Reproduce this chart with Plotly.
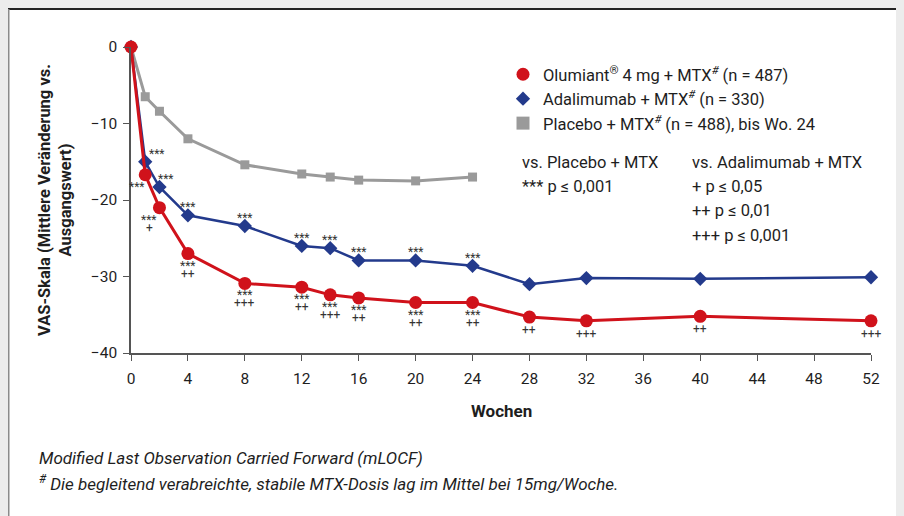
import plotly.graph_objects as go

# ---------------- data ----------------
weeks = [0, 1, 2, 4, 8, 12, 14, 16, 20, 24, 28, 32, 40, 52]
olumiant = [0, -16.7, -21.0, -27.0, -30.9, -31.4, -32.4, -32.8, -33.4, -33.4, -35.3, -35.8, -35.2, -35.8]
adalimumab = [0, -15.0, -18.3, -22.0, -23.4, -26.0, -26.3, -27.9, -27.9, -28.6, -31.0, -30.2, -30.3, -30.1]
weeks_placebo = [0, 1, 2, 4, 8, 12, 14, 16, 20, 24]
placebo = [0, -6.5, -8.4, -12.0, -15.4, -16.6, -17.0, -17.4, -17.5, -17.0]

# significance labels
olu_vs_placebo = ["", "***", "***", "***", "***", "***", "***", "***", "***", "***", "", "", "", ""]
olu_vs_ada = ["", "", "+", "++", "+++", "++", "+++", "++", "++", "++", "++", "+++", "++", "+++"]
ada_vs_placebo = ["", "***", "***", "***", "***", "***", "***", "***", "***", "***", "", "", "", ""]

x_ticks = [0, 4, 8, 12, 16, 20, 24, 28, 32, 36, 40, 44, 48, 52]
y_ticks = [0, -10, -20, -30, -40]
y_ticklabels = ["0", "\u221210", "\u221220", "\u221230", "\u221240"]

legend_names = [
    "Olumiant<sup>®</sup> 4 mg + MTX<sup><i>#</i></sup> (n = 487)",
    "Adalimumab + MTX<sup><i>#</i></sup> (n = 330)",
    "Placebo + MTX<sup><i>#</i></sup> (n = 488), bis Wo. 24",
]

# ---------------- style ----------------
W, H = 904, 516
L, R, T, B = 123, 41, 39, 171
PW, PH = W - L - R, H - T - B
RED, BLUE, GREY = "#d0121b", "#233a8c", "#9a9a9a"
TXT = "#1e1e1e"
FONT = "Roboto"


def px(xp):
    return (xp - L) / PW


def py(yp):
    return 1 - (yp - T) / PH


fig = go.Figure()

fig.add_trace(go.Scatter(x=weeks_placebo, y=placebo, mode="lines+markers",
                         line=dict(color=GREY, width=3),
                         marker=dict(symbol="square", size=9, color=GREY),
                         showlegend=False, cliponaxis=False))
fig.add_trace(go.Scatter(x=weeks, y=adalimumab, mode="lines+markers",
                         line=dict(color=BLUE, width=2.5),
                         marker=dict(symbol="diamond", size=11, color=BLUE),
                         showlegend=False, cliponaxis=False))
fig.add_trace(go.Scatter(x=weeks, y=olumiant, mode="lines+markers",
                         line=dict(color=RED, width=3),
                         marker=dict(symbol="circle", size=13, color=RED),
                         showlegend=False, cliponaxis=False))

# legend-only entries (markers only)
for name, col, sym, sz in [(legend_names[0], RED, "circle", 13),
                           (legend_names[1], BLUE, "diamond", 11),
                           (legend_names[2], GREY, "square", 13)]:
    fig.add_trace(go.Scatter(x=[None], y=[None], mode="markers", name=name,
                             marker=dict(symbol=sym, size=sz, color=col)))

annotations = []
small = dict(family=FONT, size=12, color="#333333")

# Olumiant labels (below points)
red_xshift = {1: -8, 2: -10}
for wk, yv, s, p in zip(weeks, olumiant, olu_vs_placebo, olu_vs_ada):
    xs = red_xshift.get(wk, 0)
    if s:
        annotations.append(dict(x=wk, y=yv, xref="x", yref="y", text=s, showarrow=False,
                                font=small, xshift=xs, yshift=-12, yanchor="middle"))
        if p:
            annotations.append(dict(x=wk, y=yv, xref="x", yref="y", text=p, showarrow=False,
                                    font=small, xshift=xs, yshift=-20, yanchor="middle"))
    elif p:
        annotations.append(dict(x=wk, y=yv, xref="x", yref="y", text=p, showarrow=False,
                                font=small, xshift=xs, yshift=-13, yanchor="middle"))

# Adalimumab labels (above points)
blue_xshift = {1: 12, 2: 7}
for wk, yv, s in zip(weeks, adalimumab, ada_vs_placebo):
    if s:
        annotations.append(dict(x=wk, y=yv, xref="x", yref="y", text=s, showarrow=False,
                                font=small, xshift=blue_xshift.get(wk, 0), yshift=8,
                                yanchor="middle"))

# significance key
key_font = dict(family=FONT, size=16.5, color=TXT)
left_col = ["vs. Placebo + MTX", "*** p \u2264 0,001"]
right_col = ["vs. Adalimumab + MTX", "+ p \u2264 0,05", "++ p \u2264 0,01", "+++ p \u2264 0,001"]
for i, t in enumerate(left_col):
    annotations.append(dict(x=px(512), y=py(154 + 24.4 * i), xref="paper", yref="paper",
                            text=t, showarrow=False, xanchor="left", yanchor="middle",
                            font=key_font))
for i, t in enumerate(right_col):
    annotations.append(dict(x=px(682), y=py(154 + 24.4 * i), xref="paper", yref="paper",
                            text=t, showarrow=False, xanchor="left", yanchor="middle",
                            font=key_font))

# y-axis title
annotations.append(dict(x=px(47), y=py(192), xref="paper", yref="paper",
                        text="<b>VAS-Skala (Mittlere Veränderung vs.<br>Ausgangswert)</b>",
                        showarrow=False, textangle=-90, xanchor="center", yanchor="middle",
                        font=dict(family=FONT, size=16.5, color=TXT)))
# x-axis title
annotations.append(dict(x=px(493), y=py(403), xref="paper", yref="paper",
                        text="<b>Wochen</b>", showarrow=False, xanchor="center",
                        yanchor="middle", font=dict(family=FONT, size=17, color=TXT)))

# footnotes
foot_font = dict(family=FONT, size=17, color=TXT)
annotations.append(dict(x=px(29), y=py(450), xref="paper", yref="paper",
                        text="<i>Modified Last Observation Carried Forward (mLOCF)</i>",
                        showarrow=False, xanchor="left", yanchor="middle", font=foot_font))
annotations.append(dict(x=px(29), y=py(475), xref="paper", yref="paper",
                        text="<i><sup>#</sup> Die begleitend verabreichte, stabile MTX-Dosis lag im Mittel bei 15mg/Woche.</i>",
                        showarrow=False, xanchor="left", yanchor="middle", font=foot_font))

# frame lines
shapes = [
    dict(type="line", xref="paper", yref="paper", x0=px(0), x1=px(W), y0=py(1), y1=py(1),
         line=dict(color="#222222", width=2)),
    dict(type="line", xref="paper", yref="paper", x0=px(0.75), x1=px(0.75), y0=py(1), y1=py(H),
         line=dict(color="#8a8a8a", width=1.5)),
]

fig.update_layout(
    width=W, height=H,
    margin=dict(l=L, r=R, t=T, b=B),
    paper_bgcolor="white", plot_bgcolor="white",
    font=dict(family=FONT, size=15, color=TXT),
    xaxis=dict(range=[0, 52], tickvals=x_ticks, ticks="outside", ticklen=6,
               tickcolor="#555555", showline=True, linecolor="#555555", linewidth=1.5,
               showgrid=False, zeroline=False, tickfont=dict(size=15.5, color=TXT),
               ticklabelstandoff=5),
    yaxis=dict(range=[-40, 0], tickvals=y_ticks, ticktext=y_ticklabels, ticks="outside",
               ticklen=6, tickcolor="#555555", showline=True, linecolor="#555555",
               linewidth=1.5, showgrid=False, zeroline=False,
               tickfont=dict(size=15.5, color=TXT), ticklabelstandoff=3),
    legend=dict(x=px(495), y=py(49), xanchor="left", yanchor="top",
                bgcolor="rgba(0,0,0,0)", font=dict(family=FONT, size=16.5, color=TXT),
                itemwidth=30, tracegroupgap=0),
    annotations=annotations,
    shapes=shapes,
)

fig.write_html("out.html", post_script="document.body.style.background='#ececec';")
